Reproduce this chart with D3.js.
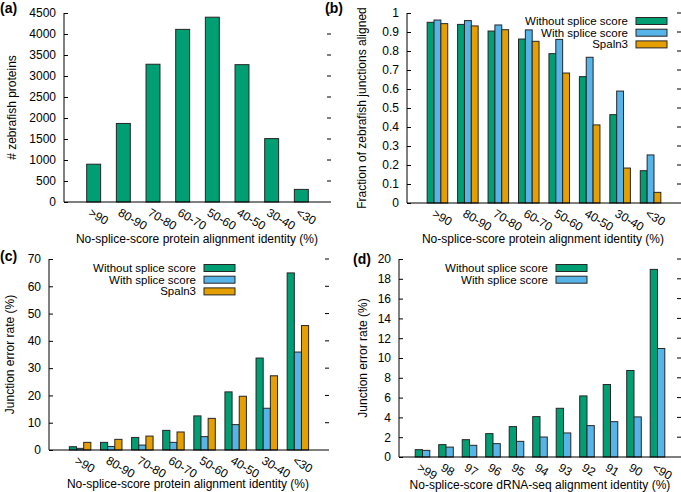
<!DOCTYPE html>
<html>
<head>
<meta charset="utf-8">
<script src="https://cdn.jsdelivr.net/npm/d3@7"></script>
<style>
  body { margin: 0; background: #fff; }
  svg { display: block; font-family: "Liberation Sans", Arial, sans-serif; }
</style>
</head>
<body>
<svg id="chart" width="681" height="492"></svg>
<script>
// categories
const proteinBins = [">90", "80-90", "70-80", "60-70", "50-60", "40-50", "30-40", "<30"]
const rnaBins = [">99", "98", "97", "96", "95", "94", "93", "92", "91", "90", "<90"]

// (a) number of zebrafish proteins per bin
const proteinCounts = [900, 1870, 3280, 4110, 4400, 3270, 1510, 300]

// (b) fraction of junctions aligned
const fracNoSplice = [0.951, 0.940, 0.905, 0.863, 0.786, 0.665, 0.465, 0.170]
const fracSplice = [0.963, 0.960, 0.937, 0.911, 0.861, 0.767, 0.589, 0.253]
const fracSpaln = [0.944, 0.932, 0.912, 0.851, 0.684, 0.411, 0.184, 0.056]

// (c) junction error rate, protein
const errNoSplice = [1.2, 2.8, 4.6, 7.2, 12.5, 21.3, 33.7, 64.9]
const errSplice = [0.6, 1.3, 1.8, 2.8, 4.9, 9.3, 15.3, 35.9]
const errSpaln = [2.8, 3.9, 5.1, 6.6, 11.6, 19.7, 27.2, 45.6]

// (d) junction error rate, dRNA-seq
const rnaNoSplice = [0.74, 1.25, 1.75, 2.36, 3.07, 4.08, 4.92, 6.17, 7.32, 8.74, 18.95]
const rnaSplice = [0.67, 1.0, 1.18, 1.35, 1.58, 2.02, 2.43, 3.17, 3.57, 4.05, 10.96]

const seriesNames = ["Without splice score", "With splice score", "Spaln3"]
const colors = ["#009e73", "#56b4e9", "#e69f00"]

const svg = d3.select("#chart")

function panel(opt) {
  const g = svg.append("g")
  const n = opt.cats.length
  const x = d3.scaleLinear().domain([-1, n]).range([opt.left, opt.right])
  const y = d3.scaleLinear().domain(opt.ydomain).range([opt.bottom, opt.top])
  const m = opt.series.length
  const unit = x(1) - x(0)
  const bw = opt.bw * unit

  opt.series.forEach(function(vals, j) {
    g.selectAll(null)
      .data(vals)
      .enter().append("rect")
      .attr("x", (d, i) => x(i) + (j - (m - 1) / 2) * bw - bw / 2)
      .attr("y", d => y(d))
      .attr("width", bw)
      .attr("height", d => y(0) - y(d))
      .attr("fill", colors[j])
      .attr("stroke", "#262626")
      .attr("stroke-width", 1)
  })

  // left axis, ticks pointing inward
  const yAxis = d3.axisLeft(y).tickValues(opt.yticks).tickSize(-4).tickPadding(8)
    .tickFormat(opt.fmt || d3.format("d"))
  const ya = g.append("g").attr("transform", `translate(${opt.left},0)`).call(yAxis)
  ya.select(".domain").attr("d", `M0,${opt.top}V${opt.bottom}`).attr("stroke", "#000")
  ya.selectAll("text").attr("font-size", 12).attr("fill", "#000")
  ya.selectAll("line").attr("stroke", "#000")

  // mirrored ticks on the right
  g.selectAll(null).data(opt.yticks.slice(1)).enter().append("line")
    .attr("x1", opt.right - 4).attr("x2", opt.right)
    .attr("y1", d => y(d)).attr("y2", d => y(d))
    .attr("stroke", "#000")

  // bottom border
  g.append("line")
    .attr("x1", opt.left).attr("x2", opt.right)
    .attr("y1", opt.bottom).attr("y2", opt.bottom)
    .attr("stroke", "#000")

  // rotated category labels
  g.selectAll(null).data(opt.cats).enter().append("text")
    .attr("transform", (d, i) => `translate(${x(i) - 6},${opt.bottom + 13}) rotate(30)`)
    .attr("font-size", 12)
    .text(d => d)

  g.append("text")
    .attr("x", opt.xtitleX).attr("y", opt.xtitleY)
    .attr("text-anchor", "middle").attr("font-size", 12)
    .text(opt.xtitle)

  g.append("text")
    .attr("transform", `translate(${opt.ytitleX},${(opt.top + opt.bottom) / 2}) rotate(-90)`)
    .attr("text-anchor", "middle").attr("font-size", 12)
    .text(opt.ytitle)

  g.append("text")
    .attr("x", opt.tagX).attr("y", opt.tagY)
    .attr("font-size", 14).attr("font-weight", "bold")
    .text(opt.tag)

  if (opt.legend) {
    const lg = g.append("g")
    opt.series.forEach(function(vals, j) {
      const cy = opt.legend.y + j * 11.7
      lg.append("text")
        .attr("x", opt.legend.x).attr("y", cy + 4)
        .attr("text-anchor", "end").attr("font-size", 11.5)
        .text(seriesNames[j])
      lg.append("rect")
        .attr("x", opt.legend.x + 8).attr("y", cy - 3.5)
        .attr("width", 31).attr("height", 7)
        .attr("fill", colors[j]).attr("stroke", "#262626")
    })
  }
}

panel({
  cats: proteinBins, series: [proteinCounts], bw: 0.47,
  left: 64, right: 331, top: 13, bottom: 202,
  ydomain: [0, 4500], yticks: d3.range(0, 4501, 500),
  xtitle: "No-splice-score protein alignment identity (%)", xtitleX: 197, xtitleY: 243,
  ytitle: "# zebrafish proteins", ytitleX: 16,
  tag: "(a)", tagX: 0, tagY: 13
})

panel({
  cats: proteinBins, series: [fracNoSplice, fracSplice, fracSpaln], bw: 0.225,
  left: 407, right: 681, top: 13, bottom: 203,
  ydomain: [0, 1], yticks: d3.range(0, 11).map(d => d / 10), fmt: d => d3.format("")(+d.toFixed(1)),
  xtitle: "No-splice-score protein alignment identity (%)", xtitleX: 543, xtitleY: 243,
  ytitle: "Fraction of zebrafish junctions aligned", ytitleX: 366,
  tag: "(b)", tagX: 325, tagY: 13,
  legend: { x: 628, y: 21 }
})

panel({
  cats: proteinBins, series: [errNoSplice, errSplice, errSpaln], bw: 0.23,
  left: 49, right: 329, top: 259, bottom: 450,
  ydomain: [0, 70], yticks: d3.range(0, 71, 10),
  xtitle: "No-splice-score protein alignment identity (%)", xtitleX: 188, xtitleY: 488,
  ytitle: "Junction error rate (%)", ytitleX: 14,
  tag: "(c)", tagX: 0, tagY: 261,
  legend: { x: 196, y: 268 }
})

panel({
  cats: rnaBins, series: [rnaNoSplice, rnaSplice], bw: 0.31,
  left: 399, right: 681, top: 259, bottom: 457,
  ydomain: [0, 20], yticks: d3.range(0, 21, 2),
  xtitle: "No-splice-score dRNA-seq alignment identity (%)", xtitleX: 540, xtitleY: 489,
  ytitle: "Junction error rate (%)", ytitleX: 367,
  tag: "(d)", tagX: 353, tagY: 264,
  legend: { x: 548, y: 268 }
})
</script>
</body>
</html>
